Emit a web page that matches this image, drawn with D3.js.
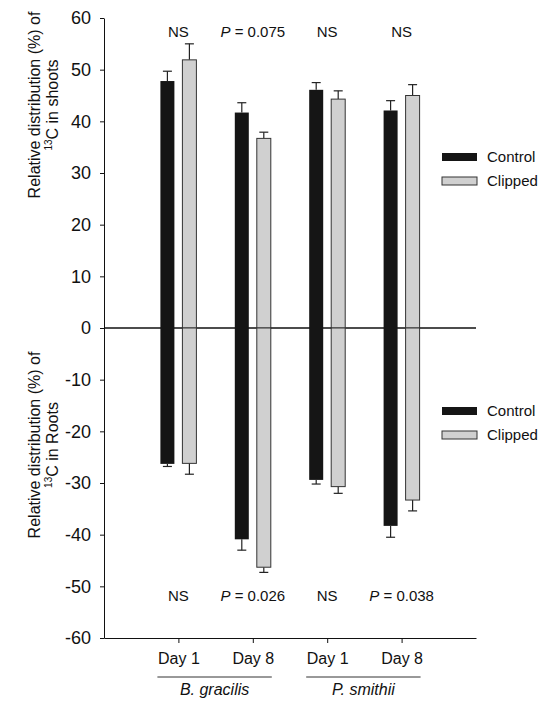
<!doctype html>
<html>
<head>
<meta charset="UTF-8">
<title>13C distribution</title>
<script src="https://d3js.org/d3.v7.min.js"></script>
<style>
  body { margin: 0; background: #fff; }
  * { font-family: "Liberation Sans", Arial, sans-serif; }
</style>
</head>
<body>
<script>
// data
var groups = ["Day 1", "Day 8", "Day 1", "Day 8"];
var species = ["B. gracilis", "P. smithii"];
var series = ["Control", "Clipped"];

var shootControl = [47.8, 41.7, 46.1, 42.1];
var shootControlErr = [1.9, 1.9, 1.4, 1.9];
var shootClipped = [51.9, 36.7, 44.3, 45.0];
var shootClippedErr = [3.1, 1.2, 1.6, 2.1];

var rootControl = [-26.3, -40.9, -29.4, -38.3];
var rootControlErr = [0.5, 2.1, 0.8, 2.2];
var rootClipped = [-26.2, -46.3, -30.7, -33.3];
var rootClippedErr = [2.1, 1.0, 1.3, 2.1];

var shootLabels = ["NS", "P = 0.075", "NS", "NS"];
var rootLabels = ["NS", "P = 0.026", "NS", "P = 0.038"];
var yTicks = [60, 50, 40, 30, 20, 10, 0, -10, -20, -30, -40, -50, -60];

var colors = { Control: "#151515", Clipped: "#d0d0d0" };

var svg = d3.select("body").append("svg")
    .attr("width", 541)
    .attr("height", 701);

var x = d3.scaleLinear().domain([0, 5]).range([104, 476]);
var y = d3.scaleLinear().domain([-60, 60]).range([638, 18]);
var off = 11, bw = 14;

// y axis (hyphen minus like the original)
var yAxis = d3.axisLeft(y).tickValues(yTicks).tickSize(4).tickSizeOuter(0)
    .tickFormat(function(d) { return String(d); });
var gy = svg.append("g").attr("transform", "translate(104,0)").call(yAxis);
gy.selectAll("text").attr("font-size", 18).attr("fill", "#111").attr("x", -13);
gy.selectAll("line, path").attr("stroke", "#111");

// x axis
var xAxis = d3.axisBottom(x).tickValues([1, 2, 3, 4]).tickSize(5).tickSizeOuter(0)
    .tickFormat(function(d) { return groups[d - 1]; });
var gx = svg.append("g").attr("transform", "translate(0,638)").call(xAxis);
gx.selectAll("text").attr("font-size", 16).attr("fill", "#111").attr("dy", "1.1em");
gx.selectAll("line, path").attr("stroke", "#111");

// zero line
svg.append("line")
    .attr("x1", x(0)).attr("x2", x(5))
    .attr("y1", y(0)).attr("y2", y(0))
    .attr("stroke", "#111").attr("stroke-width", 1.3);

function drawBars(vals, errs, name, dx) {
    var g = svg.append("g");
    vals.forEach(function(v, i) {
        var cx = x(i + 1) + dx;
        var tip = v + (v > 0 ? errs[i] : -errs[i]);
        g.append("line")
            .attr("x1", cx).attr("x2", cx)
            .attr("y1", y(v)).attr("y2", y(tip))
            .attr("stroke", "#222").attr("stroke-width", 1.2);
        g.append("line")
            .attr("x1", cx - 4.5).attr("x2", cx + 4.5)
            .attr("y1", y(tip)).attr("y2", y(tip))
            .attr("stroke", "#222").attr("stroke-width", 1.2);
        g.append("rect")
            .attr("x", cx - bw / 2)
            .attr("y", Math.min(y(v), y(0)))
            .attr("width", bw)
            .attr("height", Math.abs(y(v) - y(0)))
            .attr("fill", colors[name])
            .attr("stroke", name == "Clipped" ? "#333" : "none")
            .attr("stroke-width", 1);
    });
}
drawBars(shootControl, shootControlErr, "Control", -off);
drawBars(shootClipped, shootClippedErr, "Clipped", off);
drawBars(rootControl, rootControlErr, "Control", -off);
drawBars(rootClipped, rootClippedErr, "Clipped", off);

// significance labels
function sigLabels(labels, ypos) {
    labels.forEach(function(t, i) {
        var txt = svg.append("text")
            .attr("x", x(i + 1))
            .attr("y", ypos)
            .attr("text-anchor", "middle")
            .attr("font-size", 15)
            .attr("fill", "#111");
        if (t.indexOf("P") == 0) {
            txt.append("tspan").attr("font-style", "italic").text("P");
            txt.append("tspan").text(t.slice(1));
        } else {
            txt.text(t);
        }
    });
}
sigLabels(shootLabels, 37);
sigLabels(rootLabels, 601);

// legends
function legend(ytop) {
    series.forEach(function(s, i) {
        var yy = ytop + i * 24;
        svg.append("rect")
            .attr("x", 442).attr("y", yy - 4)
            .attr("width", 35).attr("height", 8)
            .attr("fill", colors[s])
            .attr("stroke", s == "Clipped" ? "#333" : "none");
        svg.append("text")
            .attr("x", 487).attr("y", yy + 5)
            .attr("font-size", 15).attr("fill", "#111")
            .text(s);
    });
}
legend(157);
legend(411);

// species brackets
species.forEach(function(s, i) {
    var x1 = x(2 * i + 1) - 21, x2 = x(2 * i + 2) + 19;
    svg.append("line")
        .attr("x1", x1).attr("x2", x2)
        .attr("y1", 677).attr("y2", 677)
        .attr("stroke", "#333").attr("stroke-width", 1);
    svg.append("text")
        .attr("x", (x1 + x2) / 2).attr("y", 695)
        .attr("text-anchor", "middle")
        .attr("font-size", 16).attr("font-style", "italic").attr("fill", "#111")
        .text(s);
});

// y axis titles
function yTitle(cy, part) {
    var g = svg.append("g").attr("transform", "translate(0," + cy + ") rotate(-90)");
    g.append("text")
        .attr("x", 0).attr("y", 40)
        .attr("text-anchor", "middle")
        .attr("font-size", 16).attr("fill", "#111")
        .text("Relative distribution (%) of");
    var t = g.append("text")
        .attr("x", 0).attr("y", 58)
        .attr("text-anchor", "middle")
        .attr("font-size", 16).attr("fill", "#111");
    t.append("tspan").attr("font-size", 10).attr("dy", -6).text("13");
    t.append("tspan").attr("dy", 6).text("C in " + part);
}
yTitle(105, "shoots");
yTitle(445, "Roots");
</script>
</body>
</html>
